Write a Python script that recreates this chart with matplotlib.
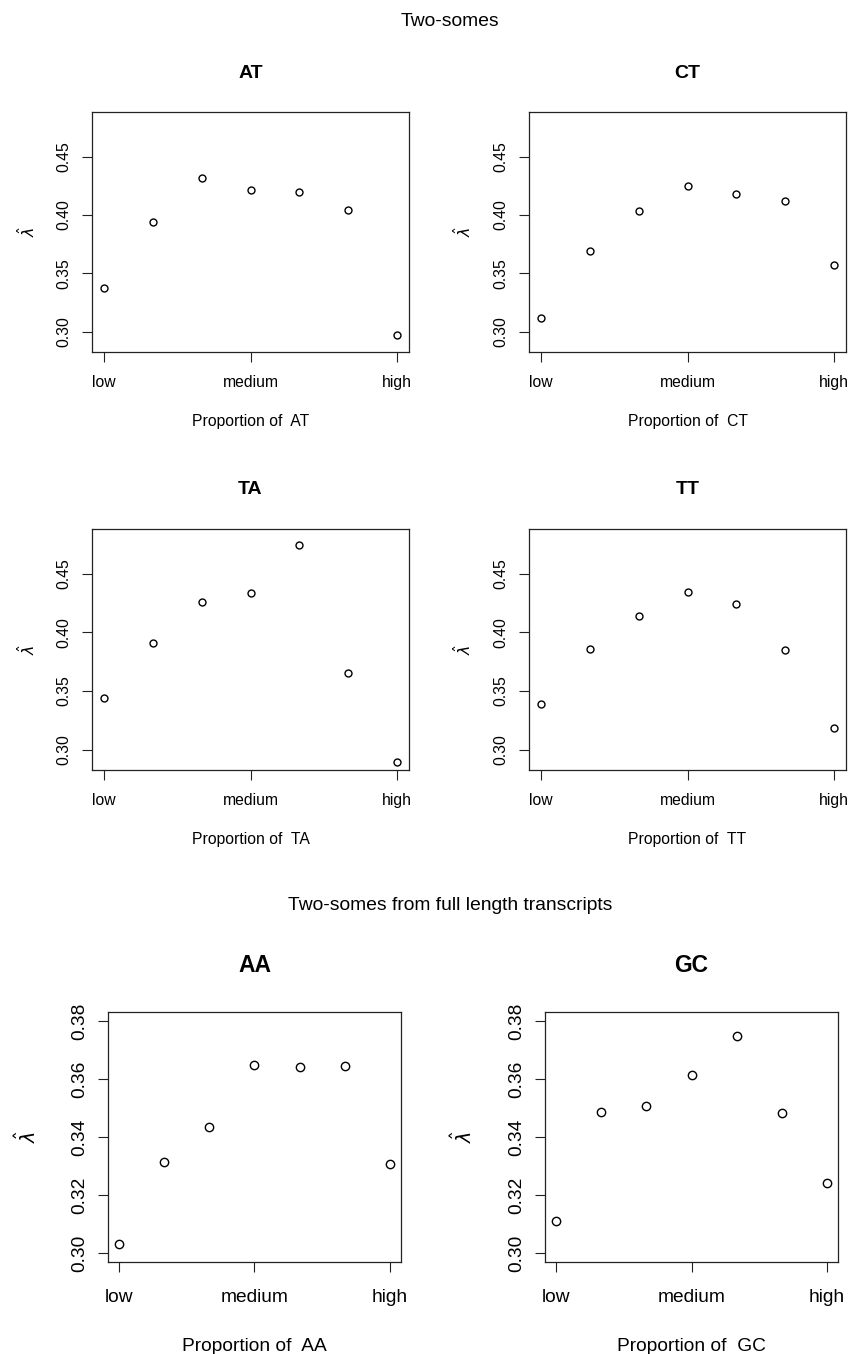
import matplotlib
matplotlib.use("Agg")
import matplotlib.pyplot as plt

plt.rcParams['font.family'] = ['Liberation Sans', 'DejaVu Sans']
plt.rcParams['mathtext.fontset'] = 'dejavusans'

levels = [1, 2, 3, 4, 5, 6, 7]
level_ticks = [1, 4, 7]
level_labels = ['low', 'medium', 'high']

# two-somes
at_vals = [0.3372, 0.3943, 0.4313, 0.4213, 0.4196, 0.4040, 0.2974]
ct_vals = [0.3114, 0.3693, 0.4034, 0.4250, 0.4176, 0.4119, 0.3568]
ta_vals = [0.3439, 0.3912, 0.4257, 0.4337, 0.4745, 0.3656, 0.2897]
tt_vals = [0.3391, 0.3858, 0.4141, 0.4343, 0.4240, 0.3850, 0.3185]
top_yticks = [0.30, 0.35, 0.40, 0.45]

# two-somes from full length transcripts
aa_vals = [0.3031, 0.3314, 0.3436, 0.3649, 0.3642, 0.3646, 0.3308]
gc_vals = [0.3112, 0.3486, 0.3508, 0.3614, 0.3747, 0.3482, 0.3241]
bot_yticks = [0.30, 0.32, 0.34, 0.36, 0.38]

W, H = 851, 1354
fig = plt.figure(figsize=(W / 100, H / 100), dpi=100)


def panel(box, name, vals, yticks, ylim, fs, tfs, ms, ylab_x, title_gap, xpad, xlabpad):
    x0, y0, x1, y1 = box
    ax = fig.add_axes([x0 / W, 1 - y1 / H, (x1 - x0) / W, (y1 - y0) / H])
    ax.plot(levels, vals, 'o', mfc='none', mec='black', ms=ms, mew=1.0)
    ax.set_xlim(0.76, 7.24)
    ax.set_ylim(*ylim)
    ax.set_xticks(level_ticks)
    ax.set_xticklabels(level_labels, fontsize=fs)
    ax.set_yticks(yticks)
    ax.set_yticklabels(['%.2f' % v for v in yticks], fontsize=fs,
                       rotation=90, va='center')
    ax.tick_params(length=7.5, width=0.8, pad=7, color='#222222')
    ax.tick_params(axis='x', pad=xpad)
    for s in ax.spines.values():
        s.set_linewidth(0.9)
        s.set_color('#222222')
    ax.set_xlabel('Proportion of  ' + name, fontsize=fs, labelpad=xlabpad)
    fig.text((x0 + x1) / 2 / W, 1 - (y0 - title_gap) / H, name,
             fontsize=tfs, fontweight='bold', ha='center', va='center')
    fig.text(ylab_x / W, 1 - (y0 + y1) / 2 / H, r'$\hat{\lambda}$',
             rotation=90, fontsize=fs, ha='center', va='center')
    return ax


top_lim = (0.2826, 0.4882)
bot_lim = (0.2969, 0.3831)

panel((92, 112, 409, 352), 'AT', at_vals, top_yticks, top_lim, 11.3, 14, 5, 27, 39, 9, 17)
panel((529, 112, 846, 352), 'CT', ct_vals, top_yticks, top_lim, 11.3, 14, 5, 463, 39, 9, 17)
panel((92, 529, 409, 770), 'TA', ta_vals, top_yticks, top_lim, 11.3, 14, 5, 27, 39, 9, 17)
panel((529, 529, 846, 770), 'TT', tt_vals, top_yticks, top_lim, 11.3, 14, 5, 463, 39, 9, 17)
panel((108, 1012, 401, 1262), 'AA', aa_vals, bot_yticks, bot_lim, 13.8, 16.5, 6, 27, 46, 12, 23)
panel((545, 1012, 838, 1262), 'GC', gc_vals, bot_yticks, bot_lim, 13.8, 16.5, 6, 463, 46, 12, 23)

fig.text(450 / W, 1 - 22 / H, 'Two-somes', fontsize=13.9, ha='center', va='center')
fig.text(450 / W, 1 - 906 / H, 'Two-somes from full length transcripts',
         fontsize=13.9, ha='center', va='center')

fig.savefig('out.png', dpi=100, facecolor='white')
